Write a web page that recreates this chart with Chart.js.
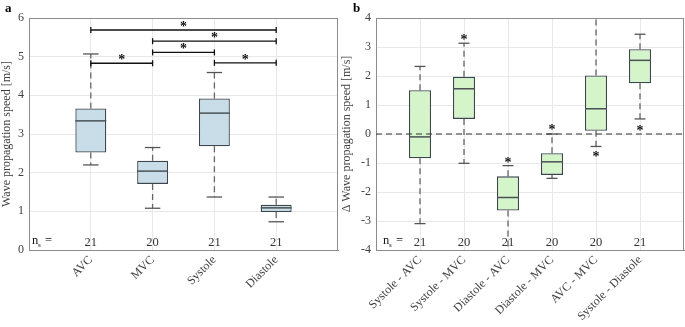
<!DOCTYPE html>
<html>
<head>
<meta charset="utf-8">
<script src="https://cdn.jsdelivr.net/npm/chart.js@4"></script>
<style>
  body { margin: 0; background: #fff; }
  #wrap { position: relative; width: 685px; height: 327px; overflow: hidden; }
  #chartA { position: absolute; left: 0; top: 0; }
  #chartB { position: absolute; left: 340px; top: 0; }
</style>
</head>
<body>
<div id="wrap">
  <canvas id="chartA" width="340" height="327"></canvas>
  <canvas id="chartB" width="345" height="327"></canvas>
</div>
<script>
// Panel a: absolute speeds per phase
const groupsA = ['AVC', 'MVC', 'Systole', 'Diastole']
const nA = [21, 20, 21, 21]
const whiskLoA = [2.2, 1.08, 1.37, 0.73]
const q1A = [2.52, 1.71, 2.68, 0.98]
const medA = [3.34, 2.04, 3.54, 1.09]
const q3A = [3.66, 2.31, 3.92, 1.17]
const whiskHiA = [5.07, 2.65, 4.59, 1.37]
// significance brackets (group numbers + height)
const sigFromA = [1, 2, 2, 1, 3]
const sigToA = [2, 3, 4, 4, 4]
const sigYA = [4.83, 5.11, 5.40, 5.69, 4.84]
const yTicksA = [0, 6]

// Panel b: differences between phases
const groupsB = ['Systole - AVC', 'Systole - MVC', 'Diastole - AVC', 'Diastole - MVC', 'AVC - MVC', 'Systole - Diastole']
const nB = [21, 20, 21, 20, 20, 21]
const whiskLoB = [-3.09, -1.01, -4.6, -1.53, -0.43, 0.52]
const q1B = [-0.84, 0.52, -2.64, -1.41, 0.11, 1.75]
const medB = [-0.1, 1.56, -2.19, -0.96, 0.87, 2.54]
const q3B = [1.51, 1.97, -1.46, -0.66, 2.02, 2.92]
const whiskHiB = [2.33, 3.13, -1.09, 0.0, 4.6, 3.44]
const starB = [null, 3.38, -0.87, 0.28, -0.66, 0.25]
const yTicksB = [-4, 4]

const serif = '"Liberation Serif", "DejaVu Serif", serif'

function line(ctx, x1, y1, x2, y2) {
    ctx.beginPath()
    ctx.moveTo(x1, y1)
    ctx.lineTo(x2, y2)
    ctx.stroke()
}

function star(ctx, px, py) {
    // asterisk glyph sits high in the em box, shift so its centre is on py
    ctx.font = 'bold 14px ' + serif
    ctx.textAlign = 'center'
    ctx.textBaseline = 'alphabetic'
    ctx.fillStyle = '#111'
    ctx.fillText('*', px, py + 8)
}

const boxPlugin = {
    id: 'boxExtras',
    beforeDatasetsDraw(chart, args, o) {
        const {ctx, chartArea: ca, scales: {x, y}} = chart
        ctx.save()
        ctx.beginPath()
        ctx.rect(ca.left, ca.top, ca.right - ca.left, ca.bottom - ca.top)
        ctx.clip()
        o.groups.forEach((g, i) => {
            const px = x.getPixelForValue(i + 1)
            // dashed whiskers
            ctx.strokeStyle = '#666'
            ctx.lineWidth = 1.3
            ctx.setLineDash([6, 4])
            line(ctx, px, y.getPixelForValue(o.q3[i]), px, y.getPixelForValue(o.hi[i]))
            line(ctx, px, y.getPixelForValue(o.q1[i]), px, y.getPixelForValue(o.lo[i]))
            // caps
            ctx.setLineDash([])
            ctx.strokeStyle = '#555'
            const cl = x.getPixelForValue(i + 1 - 0.125), cr = x.getPixelForValue(i + 1 + 0.125)
            line(ctx, cl, y.getPixelForValue(o.hi[i]), cr, y.getPixelForValue(o.hi[i]))
            line(ctx, cl, y.getPixelForValue(o.lo[i]), cr, y.getPixelForValue(o.lo[i]))
        })
        ctx.restore()
    },
    afterDatasetsDraw(chart, args, o) {
        const {ctx, chartArea: ca, scales: {x, y}} = chart
        ctx.save()
        // medians
        ctx.strokeStyle = '#4a5256'
        ctx.lineWidth = 1.5
        o.med.forEach((m, i) => {
            line(ctx, x.getPixelForValue(i + 0.75), y.getPixelForValue(m), x.getPixelForValue(i + 1.25), y.getPixelForValue(m))
        })
        // dashed zero line
        if (o.zeroLine) {
            ctx.strokeStyle = '#333'
            ctx.lineWidth = 1.2
            ctx.setLineDash([6, 4])
            line(ctx, ca.left, y.getPixelForValue(0), ca.right, y.getPixelForValue(0))
            ctx.setLineDash([])
        }
        // significance brackets
        if (o.sigFrom) {
            ctx.strokeStyle = '#111'
            ctx.lineWidth = 1.3
            o.sigFrom.forEach((f, k) => {
                const x1 = x.getPixelForValue(f), x2 = x.getPixelForValue(o.sigTo[k])
                const py = y.getPixelForValue(o.sigY[k])
                line(ctx, x1, py, x2, py)
                line(ctx, x1, py - 3, x1, py + 3)
                line(ctx, x2, py - 3, x2, py + 3)
                star(ctx, (x1 + x2) / 2, py - 7)
            })
        }
        if (o.stars) {
            o.stars.forEach((s, i) => {
                if (s !== null) star(ctx, x.getPixelForValue(i + 1), y.getPixelForValue(s))
            })
        }
        // n_s row
        ctx.fillStyle = '#333'
        ctx.textBaseline = 'alphabetic'
        ctx.textAlign = 'center'
        ctx.font = '12.5px ' + serif
        o.n.forEach((n, i) => ctx.fillText(String(n), x.getPixelForValue(i + 1), ca.bottom - 4))
        ctx.textAlign = 'left'
        const nx = ca.left + o.nsOffset
        ctx.fillStyle = '#111'
        ctx.fillText('n', nx, ca.bottom - 6)
        ctx.font = '7px ' + serif
        ctx.fillText('s', nx + 6, ca.bottom - 3)
        ctx.font = '12.5px ' + serif
        ctx.fillText('=', nx + 13, ca.bottom - 6)
        // box on: top and right axis lines
        ctx.strokeStyle = '#8c8c8c'
        ctx.lineWidth = 1
        line(ctx, ca.left, ca.top + 0.5, ca.right, ca.top + 0.5)
        line(ctx, ca.right - 0.5, ca.top, ca.right - 0.5, ca.bottom)
        // panel letter
        ctx.fillStyle = '#000'
        ctx.font = 'bold 13px ' + serif
        ctx.fillText(o.letter, o.letterX, 12)
        ctx.restore()
    }
}

function boxChart(id, cfg) {
    return new Chart(document.getElementById(id), {
        type: 'bar',
        data: {
            datasets: [{
                data: cfg.groups.map((g, i) => ({x: i + 1, y: [cfg.q1[i], cfg.q3[i]]})),
                backgroundColor: cfg.fill,
                borderColor: '#3d464c',
                borderWidth: 1.3,
                borderSkipped: false,
                barPercentage: 0.5,
                categoryPercentage: 1
            }]
        },
        options: {
            responsive: false,
            animation: false,
            layout: {padding: {top: 18, right: cfg.padRight, left: 0, bottom: 0}},
            plugins: {legend: {display: false}, tooltip: {enabled: false}, boxExtras: cfg},
            scales: {
                x: {
                    type: 'linear',
                    min: 0,
                    max: cfg.groups.length + 1,
                    offset: false,
                    afterBuildTicks: s => { s.ticks = cfg.groups.map((g, i) => ({value: i + 1})) },
                    afterFit: s => { s.height = 77 },
                    ticks: {
                        callback: v => cfg.groups[v - 1],
                        minRotation: 45, maxRotation: 45, autoSkip: false,
                        padding: 3, color: '#404040',
                        font: {family: serif, size: 12}
                    },
                    grid: {color: '#e8e8e8', drawTicks: false, offset: false},
                    border: {color: '#8c8c8c'}
                },
                y: {
                    min: cfg.yTicks[0],
                    max: cfg.yTicks[1],
                    afterFit: s => { s.width = cfg.yWidth },
                    ticks: {stepSize: 1, padding: 5, color: '#404040', font: {family: serif, size: 12}},
                    grid: {color: '#e8e8e8', drawTicks: false},
                    border: {color: '#8c8c8c'},
                    title: {display: true, text: cfg.yTitle, color: '#404040', padding: 0, font: {family: serif, size: 12}}
                }
            }
        },
        plugins: [boxPlugin]
    })
}

var chartA = boxChart('chartA', {
    groups: groupsA, n: nA, lo: whiskLoA, q1: q1A, med: medA, q3: q3A, hi: whiskHiA,
    sigFrom: sigFromA, sigTo: sigToA, sigY: sigYA, yTicks: yTicksA,
    fill: '#c9dde9', yTitle: 'Wave propagation speed [m/s]',
    yWidth: 29, padRight: 2, nsOffset: 3, letter: 'a', letterX: 5
})
var chartB = boxChart('chartB', {
    groups: groupsB, n: nB, lo: whiskLoB, q1: q1B, med: medB, q3: q3B, hi: whiskHiB,
    stars: starB, zeroLine: true, yTicks: yTicksB,
    fill: '#d4f5c9', yTitle: 'Δ Wave propagation speed [m/s]',
    yWidth: 36, padRight: 1, nsOffset: 7, letter: 'b', letterX: 13
})
</script>
</body>
</html>
